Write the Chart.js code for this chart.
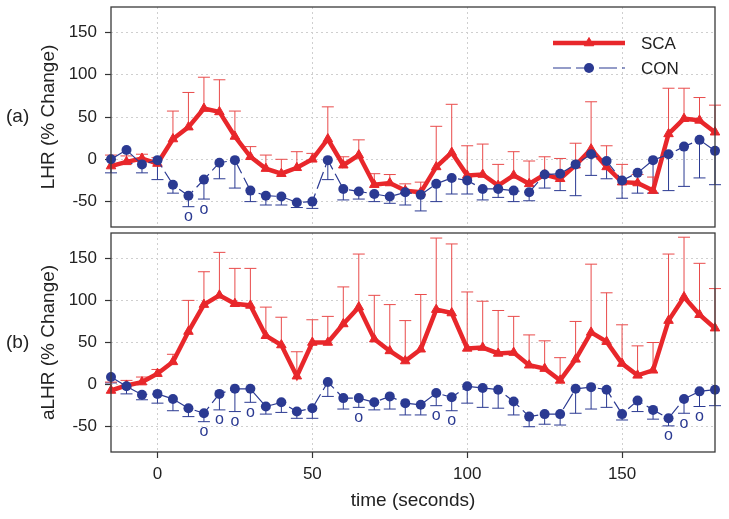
<!DOCTYPE html>
<html lang="en">
<head>
<meta charset="UTF-8">
<title>LHR / aLHR % change</title>
<script src="https://cdn.jsdelivr.net/npm/chart.js@4"></script>
<style>
  body { margin: 0; background: #fff; }
  .wrap { position: relative; width: 729px; height: 519px; }
  #top { position: absolute; left: 0; top: 0; width: 729px; height: 230px; }
  #bot { position: absolute; left: 0; top: 230px; width: 729px; height: 289px; }
</style>
</head>
<body>
<div class="wrap">
  <canvas id="top" width="729" height="230"></canvas>
  <canvas id="bot" width="729" height="289"></canvas>
</div>
<script>
// time points (s)
const times = [-15,-10,-5,0,5,10,15,20,25,30,35,40,45,50,55,60,65,70,75,80,
               85,90,95,100,105,110,115,120,125,130,135,140,145,150,155,160,165,170,175,180];

// (a) LHR
const scaA     = [-8,-3,1,-5,24,38,60,56,27,3,-11,-17,-10,0,24,-7,5,-30,-28,-37,
                  -39,-9,8,-19,-18,-31,-19,-29,-18,-23,-7,12,-9,-27,-28,-37,30,48,46,32];
const scaAHigh = [5,4,6,2,57,79,97,94,57,15,5,0,9,7,62,3,23,-17,-18,-29,
                  -27,39,65,16,18,-6,9,-2,3,1,19,68,16,-6,-18,-21,84,84,73,64];
const conA     = [0,11,-6,-1,-30,-43,-24,-4,-1,-37,-43,-44,-51,-50,-1,-35,-38,-41,-44,-39,
                  -42,-29,-22,-25,-35,-35,-37,-39,-18,-17,-6,6,-2,-25,-16,-1,6,15,23,10];
const conALow  = [-16,-5,-16,-24,-40,-56,-47,-23,-34,-50,-54,-54,-57,-58,-24,-48,-47,-50,-52,-54,
                  -61,-50,-41,-41,-48,-45,-50,-49,-34,-37,-43,-19,-23,-46,-40,-40,-37,-32,-22,-30];
const sigA = [10, 15];

// (b) aLHR
const scaB     = [-7,-1,3,13,27,63,95,106,96,94,58,47,10,50,50,72,92,54,40,28,
                  42,89,85,43,44,37,38,23,19,5,30,62,51,25,11,17,76,104,83,67];
const scaBHigh = [3,5,9,18,36,100,134,157,138,138,92,80,39,77,81,116,155,106,95,76,
                  107,174,167,110,99,88,81,59,52,32,75,143,109,71,46,50,155,175,144,114];
const conB     = [9,-2,-12,-11,-17,-28,-34,-11,-5,-5,-26,-21,-32,-28,3,-16,-16,-21,-14,-22,
                  -24,-10,-15,-2,-4,-6,-20,-38,-35,-35,-5,-3,-6,-35,-19,-30,-40,-17,-8,-6];
const conBLow  = [2,-11,-18,-22,-31,-38,-44,-30,-32,-21,-35,-33,-40,-40,-14,-29,-27,-30,-29,-36,
                  -36,-25,-31,-22,-27,-28,-36,-50,-47,-48,-34,-29,-27,-42,-32,-41,-49,-34,-26,-25];
const sigB = [15, 20, 25, 30, 65, 90, 95, 165, 170, 175];

const yTicks = [-50, 0, 50, 100, 150];
const xTicks = [0, 50, 100, 150];

const RED = '#e8272b', RED_ERR = '#e94b4b', BLUE = '#2b3a92';
const FONT = '"Liberation Sans", Arial, Helvetica, sans-serif';
Chart.defaults.font.family = FONT;
Chart.defaults.color = '#222';

const errorBars = {
  id: 'errorBars',
  beforeDatasetsDraw(chart) {
    const ctx = chart.ctx, ys = chart.scales.y;
    chart.data.datasets.forEach((ds, i) => {
      const meta = chart.getDatasetMeta(i);
      ctx.save();
      ctx.strokeStyle = ds.errColor;
      ctx.lineWidth = 1;
      meta.data.forEach((pt, j) => {
        const yEnd = ys.getPixelForValue(ds.errTo[j]);
        ctx.beginPath();
        ctx.moveTo(pt.x, pt.y);
        ctx.lineTo(pt.x, yEnd);
        ctx.moveTo(pt.x - 6, yEnd);
        ctx.lineTo(pt.x + 6, yEnd);
        ctx.stroke();
      });
      ctx.restore();
    });
  }
};

function framePlugin(letter, sig, low, withLegend) {
  return {
    id: 'frame',
    afterDraw(chart) {
      const { ctx, chartArea: a } = chart;
      const xs = chart.scales.x, ys = chart.scales.y;
      ctx.save();
      ctx.strokeStyle = '#3a3a3a';
      ctx.lineWidth = 1.3;
      ctx.strokeRect(a.left, a.top, a.right - a.left, a.bottom - a.top);

      ctx.fillStyle = '#222';
      ctx.font = '19px ' + FONT;
      ctx.textAlign = 'left';
      ctx.textBaseline = 'middle';
      ctx.fillText(letter, 6, (a.top + a.bottom) / 2);

      // significance marks under the CON error bars
      ctx.fillStyle = BLUE;
      ctx.font = '16px ' + FONT;
      ctx.textAlign = 'center';
      ctx.textBaseline = 'alphabetic';
      sig.forEach(t => {
        const i = times.indexOf(t);
        ctx.fillText('o', xs.getPixelForValue(t), ys.getPixelForValue(low[i]) + 14.5);
      });

      if (withLegend) {
        const x0 = a.right - 162, x1 = a.right - 90, xm = (x0 + x1) / 2;
        const y1 = a.top + 36, y2 = a.top + 61;
        ctx.strokeStyle = RED; ctx.lineWidth = 4.5;
        ctx.beginPath(); ctx.moveTo(x0, y1); ctx.lineTo(x1, y1); ctx.stroke();
        ctx.fillStyle = RED; ctx.lineWidth = 1;
        Chart.helpers.drawPoint(ctx, { pointStyle: 'triangle', radius: 5.5, borderWidth: 1, rotation: 0 }, xm, y1);

        ctx.strokeStyle = BLUE; ctx.lineWidth = 1.2; ctx.setLineDash([18, 5]);
        ctx.beginPath(); ctx.moveTo(x0, y2); ctx.lineTo(x1, y2); ctx.stroke();
        ctx.setLineDash([]);
        ctx.fillStyle = BLUE;
        Chart.helpers.drawPoint(ctx, { pointStyle: 'circle', radius: 5, borderWidth: 0, rotation: 0 }, xm, y2);

        ctx.fillStyle = '#222';
        ctx.font = '17px ' + FONT;
        ctx.textAlign = 'left';
        ctx.textBaseline = 'middle';
        ctx.fillText('SCA', x1 + 16, y1 + 1);
        ctx.fillText('CON', x1 + 16, y2 + 1);
      }
      ctx.restore();
    }
  };
}

function noPad(s) {
  s.paddingTop = 0; s.paddingBottom = 0; s.paddingLeft = 0; s.paddingRight = 0;
}

function makeChart(id, opt) {
  const pts = arr => times.map((t, i) => ({ x: t, y: arr[i] }));
  return new Chart(document.getElementById(id), {
    type: 'line',
    data: {
      datasets: [
        {
          label: 'CON', data: pts(opt.con), errTo: opt.conLow, errColor: BLUE,
          borderColor: BLUE, borderWidth: 1.2, borderDash: [18, 5],
          pointStyle: 'circle', pointRadius: 5, pointBackgroundColor: BLUE,
          pointBorderWidth: 0, clip: false, tension: 0
        },
        {
          label: 'SCA', data: pts(opt.sca), errTo: opt.scaHigh, errColor: RED_ERR,
          borderColor: RED, borderWidth: 4.5,
          pointStyle: 'triangle', pointRadius: 5.5, pointBackgroundColor: RED,
          pointBorderColor: RED, pointBorderWidth: 1, clip: false, tension: 0
        }
      ]
    },
    options: {
      responsive: false,
      animation: false,
      events: [],
      layout: { autoPadding: false, padding: { top: opt.padTop, right: 14, left: 0, bottom: 0 } },
      plugins: { legend: { display: false }, tooltip: { enabled: false } },
      scales: {
        x: {
          type: 'linear', min: -15, max: 180,
          afterBuildTicks: s => { s.ticks = xTicks.map(v => ({ value: v })); },
          ticks: { display: opt.showX, font: { size: 17 }, color: '#222', padding: 6, maxRotation: 0 },
          grid: { color: '#cfcfcf', lineWidth: 1, drawTicks: opt.showX, tickLength: 6,
                  tickColor: '#333', tickWidth: 1.2, tickBorderDash: [] },
          border: { display: false, dash: [2, 3] },
          title: { display: opt.showX, text: 'time (seconds)', font: { size: 19 }, color: '#222',
                   padding: { top: 0, bottom: 6.6 } },
          afterFit: s => { s.height = opt.showX ? 67 : 3; noPad(s); }
        },
        y: {
          min: -80, max: 180,
          afterBuildTicks: s => { s.ticks = yTicks.map(v => ({ value: v })); },
          ticks: { font: { size: 17 }, color: '#222', padding: 8 },
          grid: { color: '#cfcfcf', lineWidth: 1, tickLength: 6,
                  tickColor: '#333', tickWidth: 1.2, tickBorderDash: [] },
          border: { display: false, dash: [2, 3] },
          title: { display: true, text: opt.yTitle, font: { size: 19 }, color: '#222',
                   padding: { top: 37.6, bottom: 0 } },
          afterFit: s => { s.width = 111; noPad(s); }
        }
      }
    },
    plugins: [errorBars, framePlugin(opt.letter, opt.sig, opt.conLow, opt.legend)]
  });
}

makeChart('top', {
  sca: scaA, scaHigh: scaAHigh, con: conA, conLow: conALow, sig: sigA,
  yTitle: 'LHR (% Change)', letter: '(a)', showX: false, padTop: 7, legend: true
});
makeChart('bot', {
  sca: scaB, scaHigh: scaBHigh, con: conB, conLow: conBLow, sig: sigB,
  yTitle: 'aLHR (% Change)', letter: '(b)', showX: true, padTop: 3, legend: false
});
</script>
</body>
</html>
